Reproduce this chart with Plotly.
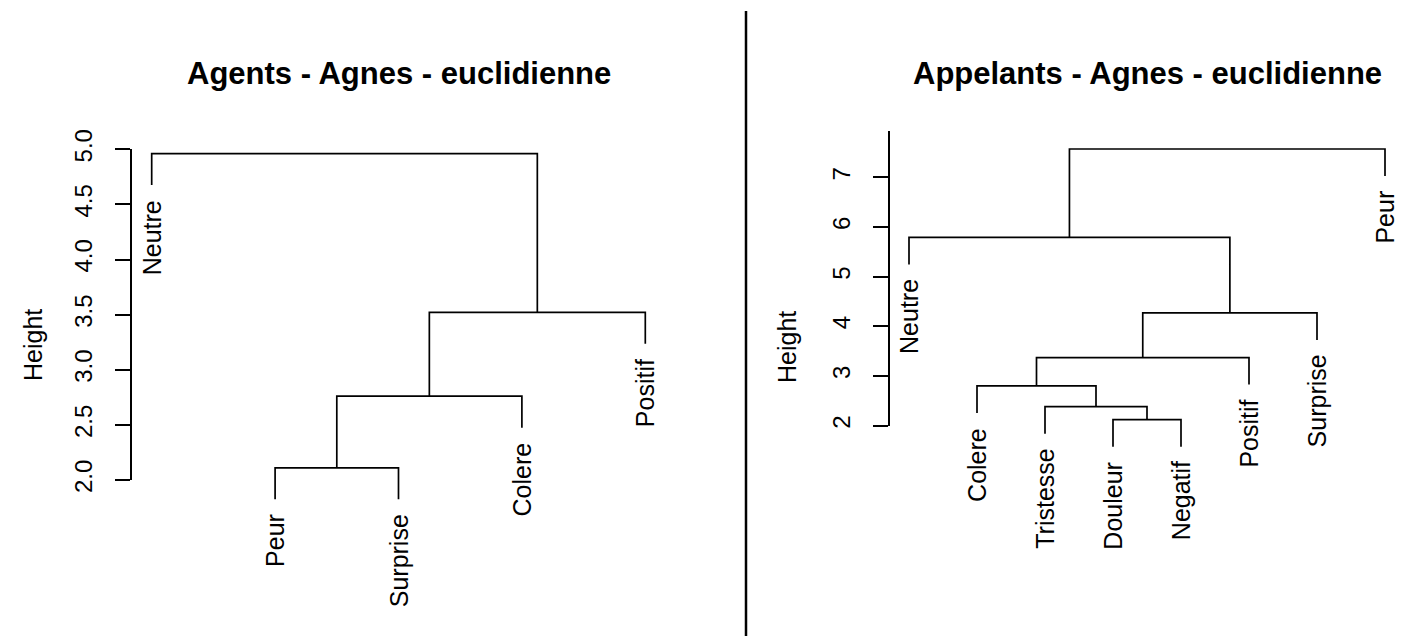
import plotly.graph_objects as go

W, H = 1401, 636

# ---------------- data ----------------
agents_title = "Agents - Agnes - euclidienne"
agents_leaves = ["Neutre", "Peur", "Surprise", "Colere", "Positif"]
# merges: (child_a, child_b, height); negative = leaf number (1-based, plotted order), positive = earlier merge
agents_merge_a = [-2, 1, 2, -1]
agents_merge_b = [-3, -4, -5, 3]
agents_heights = [2.11, 2.76, 3.52, 4.96]
agents_ticks = [2.0, 2.5, 3.0, 3.5, 4.0, 4.5, 5.0]
agents_ticklabels = ["2.0", "2.5", "3.0", "3.5", "4.0", "4.5", "5.0"]

appel_title = "Appelants - Agnes - euclidienne"
appel_leaves = ["Neutre", "Colere", "Tristesse", "Douleur", "Negatif", "Positif", "Surprise", "Peur"]
appel_merge_a = [-4, -3, -2, 3, 4, -1, 6]
appel_merge_b = [-5, 1, 2, -6, -7, 5, -8]
appel_heights = [2.12, 2.38, 2.80, 3.37, 4.27, 5.79, 7.57]
appel_ticks = [2, 3, 4, 5, 6, 7]
appel_ticklabels = ["2", "3", "4", "5", "6", "7"]

y_label = "Height"

# ---------------- layout constants (pixels) ----------------
FONT = "Liberation Sans, Arial, Helvetica, sans-serif"
LW = 1.7
panels = [
    dict(title=agents_title, leaves=agents_leaves, ma=agents_merge_a, mb=agents_merge_b,
         h=agents_heights, ticks=agents_ticks, ticklabels=agents_ticklabels,
         leaf1=151.7, step=123.4, vref=5.0, pref=149.3, scale=110.23,
         data_top=132, data_bot=560, axis_top_px=None, height_px=(33, 345), title_y=73),
    dict(title=appel_title, leaves=appel_leaves, ma=appel_merge_a, mb=appel_merge_b,
         h=appel_heights, ticks=appel_ticks, ticklabels=appel_ticklabels,
         leaf1=909.0, step=68.0, vref=7.0, pref=177.3, scale=49.65,
         data_top=128, data_bot=600, axis_top_px=131, height_px=(787, 347), title_y=73),
]


def px2x(px):
    return px / W


def px2y(py):
    return 1 - py / H


def dendro(leaves, ma, mb, heights):
    n = len(leaves)
    hang = 0.1 * (max(heights) - min(heights))
    node_x, node_y = {}, {}
    leaf_end = [None] * n
    xs, ys = [], []
    for k, (a, b, h) in enumerate(zip(ma, mb, heights), start=1):
        pts = []
        for c in (a, b):
            if c < 0:
                i = -c
                leaf_end[i - 1] = h - hang
                pts.append((i, h - hang))
            else:
                pts.append((node_x[c], node_y[c]))
        (xa, ya), (xb, yb) = pts
        xs += [xa, xa, xb, xb, None]
        ys += [ya, h, h, yb, None]
        node_x[k] = (xa + xb) / 2
        node_y[k] = h
    return xs, ys, leaf_end


fig = go.Figure()
layout = dict(width=W, height=H, margin=dict(l=0, r=0, t=0, b=0, pad=0, autoexpand=False),
              paper_bgcolor="white", plot_bgcolor="rgba(0,0,0,0)",
              showlegend=False, annotations=[], shapes=[])

for p_i, p in enumerate(panels):
    n = len(p["leaves"])
    sx = "" if p_i == 0 else str(2 * p_i + 1)
    xa_name = "x" + sx
    ya_name = "y" + sx
    tx_name = "x" + str(2 * p_i + 2)
    ty_name = "y" + str(2 * p_i + 2)

    def xpx(v, p=p):
        return p["leaf1"] + (v - 1) * p["step"]

    def ypx(v, p=p):
        return p["pref"] - (v - p["vref"]) * p["scale"]

    def yval(py, p=p):
        return p["vref"] - (py - p["pref"]) / p["scale"]

    r0 = 1 - 0.04 * (n - 1)
    r1_full = n + 0.04 * (n - 1)
    r1 = min(r1_full, 1 + (W - p["leaf1"]) / p["step"])
    dom_x = [px2x(xpx(r0)), px2x(xpx(r1))]

    xs, ys, leaf_end = dendro(p["leaves"], p["ma"], p["mb"], p["h"])
    fig.add_trace(go.Scatter(x=xs, y=ys, mode="lines", xaxis=xa_name, yaxis=ya_name,
                             line=dict(color="black", width=LW), hoverinfo="skip"))
    # empty trace to host the tick axis
    fig.add_trace(go.Scatter(x=[None], y=[None], mode="lines", xaxis=tx_name, yaxis=ty_name,
                             hoverinfo="skip"))

    key = lambda nm: ("xaxis" if nm[0] == "x" else "yaxis") + nm[1:]
    layout[key(xa_name)] = dict(domain=dom_x, range=[r0, r1], visible=False, automargin=False,
                                anchor=ya_name, fixedrange=True)
    layout[key(ya_name)] = dict(domain=[px2y(p["data_bot"]), px2y(p["data_top"])],
                                range=[yval(p["data_bot"]), yval(p["data_top"])],
                                visible=False, automargin=False, anchor=xa_name, fixedrange=True)

    tmin = min(p["ticks"])
    tmax = max(p["ticks"]) if p["axis_top_px"] is None else yval(p["axis_top_px"])
    ax_px = xpx(r0)
    layout[key(tx_name)] = dict(domain=[px2x(ax_px), px2x(ax_px + 6)], range=[0, 1],
                                visible=False, automargin=False, anchor=ty_name, fixedrange=True)
    layout[key(ty_name)] = dict(domain=[px2y(ypx(tmin)), px2y(ypx(tmax))], range=[tmin, tmax],
                                anchor=tx_name, side="left", showline=True, linecolor="black",
                                linewidth=LW, ticks="outside", ticklen=15, tickwidth=LW,
                                tickcolor="black", tickvals=p["ticks"], ticktext=p["ticklabels"],
                                tickangle=-90, ticklabelstandoff=14, automargin=False,
                                tickfont=dict(family=FONT, size=24, color="black"),
                                showgrid=False, zeroline=False, fixedrange=True)

    # leaf labels
    for i, lab in enumerate(p["leaves"]):
        layout["annotations"].append(dict(
            x=i + 1, y=leaf_end[i], xref=xa_name, yref=ya_name, text=lab, textangle=-90,
            showarrow=False, xanchor="center", yanchor="top", yshift=-13,
            font=dict(family=FONT, size=25, color="black")))
    # title, centred on the full plot region
    layout["annotations"].append(dict(
        x=px2x((xpx(r0) + xpx(r1_full)) / 2), y=px2y(p["title_y"]), xref="paper", yref="paper",
        text="<b>" + p["title"] + "</b>", showarrow=False, xanchor="center", yanchor="middle",
        font=dict(family=FONT, size=31, color="black")))
    # y label
    hx, hy = p["height_px"]
    layout["annotations"].append(dict(
        x=px2x(hx), y=px2y(hy), xref="paper", yref="paper", text=y_label, textangle=-90,
        showarrow=False, xanchor="center", yanchor="middle",
        font=dict(family=FONT, size=25, color="black")))

# separator between the two panels
layout["shapes"].append(dict(type="line", xref="paper", yref="paper",
                             x0=px2x(746), x1=px2x(746), y0=0, y1=px2y(11),
                             line=dict(color="black", width=2.5)))

fig.update_layout(**layout)
fig.write_html("out.html", config={"displayModeBar": False},
               post_script="document.body.style.margin='0';document.body.style.overflow='hidden';")
